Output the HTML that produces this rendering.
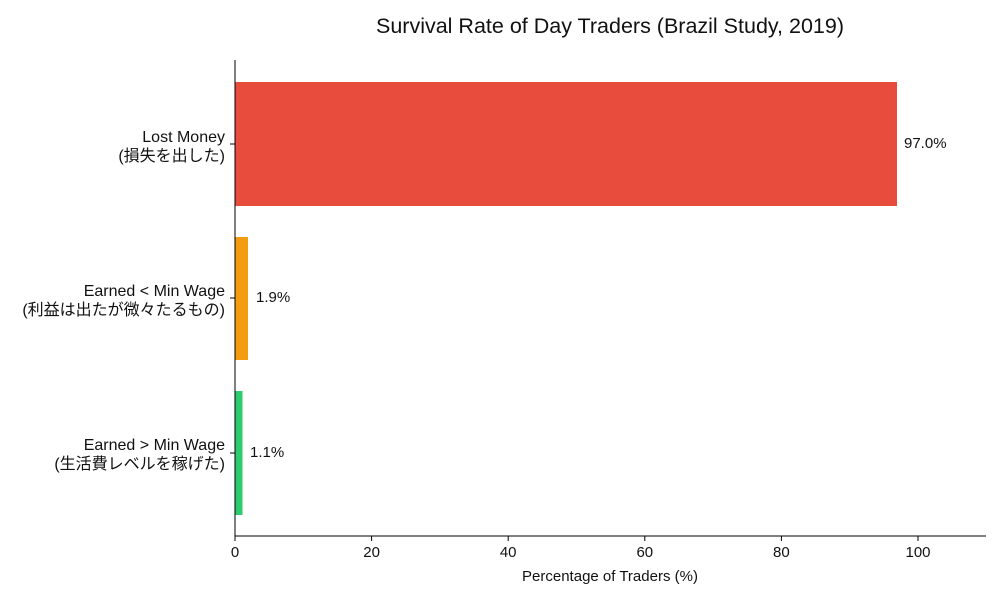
<!DOCTYPE html>
<html><head><meta charset="utf-8"><style>
body{margin:0;background:#fff;}
svg text{font-family:"Liberation Sans","Noto Sans CJK JP",sans-serif;fill:#111;}
</style></head><body>
<svg width="1000" height="600" viewBox="0 0 1000 600" xmlns="http://www.w3.org/2000/svg">
<rect width="1000" height="600" fill="#fff"/>
<text x="610" y="33" font-size="21.5" text-anchor="middle">Survival Rate of Day Traders (Brazil Study, 2019)</text>
<rect x="235" y="82" width="662" height="124" fill="#e74c3c"/>
<rect x="235" y="237" width="13" height="123" fill="#f39c12"/>
<rect x="235" y="391" width="7.5" height="124" fill="#2ecc71"/>
<line x1="235" y1="60" x2="235" y2="536" stroke="#000" stroke-width="1"/>
<line x1="235" y1="536" x2="986" y2="536" stroke="#000" stroke-width="1"/>
<g font-size="15">
<text x="904" y="148">97.0%</text>
<text x="256" y="302">1.9%</text>
<text x="250" y="457">1.1%</text>
</g>
<g font-size="16" text-anchor="end">
<text x="225" y="142">Lost Money</text>
<text x="225" y="161">(損失を出した)</text>
<text x="225" y="296">Earned &lt; Min Wage</text>
<text x="225" y="315">(利益は出たが微々たるもの)</text>
<text x="225" y="450">Earned &gt; Min Wage</text>
<text x="225" y="469">(生活費レベルを稼げた)</text>
</g>
<g stroke="#000">
<line x1="230" y1="144" x2="235" y2="144"/><line x1="230" y1="298" x2="235" y2="298"/><line x1="230" y1="453" x2="235" y2="453"/>
<line x1="235" y1="536" x2="235" y2="541"/><line x1="371.6" y1="536" x2="371.6" y2="541"/><line x1="508.2" y1="536" x2="508.2" y2="541"/><line x1="644.8" y1="536" x2="644.8" y2="541"/><line x1="781.4" y1="536" x2="781.4" y2="541"/><line x1="918" y1="536" x2="918" y2="541"/>
</g>
<g font-size="15" text-anchor="middle">
<text x="235" y="557">0</text><text x="371.6" y="557">20</text><text x="508.2" y="557">40</text><text x="644.8" y="557">60</text><text x="781.4" y="557">80</text><text x="918" y="557">100</text>
<text x="610" y="581">Percentage of Traders (%)</text>
</g>
</svg>
</body></html>
